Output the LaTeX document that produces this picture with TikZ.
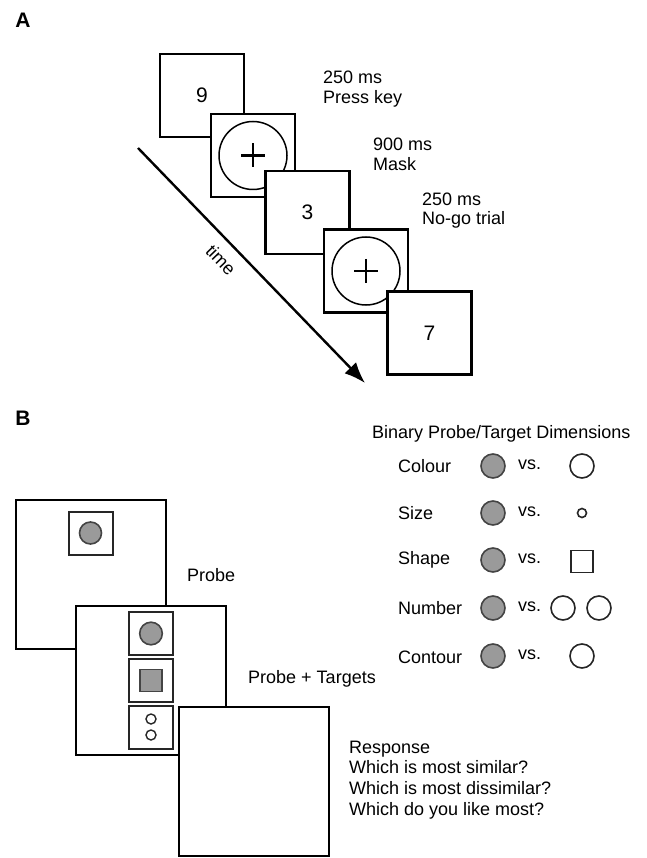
\documentclass[tikz,border=0pt]{standalone}
\usepackage{fontspec}
\setmainfont{Liberation Sans}
\usetikzlibrary{arrows.meta,calc}
\definecolor{fillgray}{HTML}{9A9A9A}
\definecolor{edgegray}{HTML}{444444}
\tikzset{
  screen/.style={draw=black, fill=white, line width=2.5pt, inner sep=0pt, font=\fontsize{21}{23}\selectfont},
  bigscreen/.style={screen, minimum width=150pt, minimum height=149pt},
  smallscreen/.style={screen, minimum width=84pt, minimum height=83pt},
  innerbox/.style={draw=black!85, fill=white, line width=2pt, inner sep=0pt, minimum width=44pt, minimum height=43pt},
  maskcircle/.style={draw=black, line width=1.5pt},
  plusline/.style={draw=black, line width=2.1pt},
  lbl/.style={inner sep=0pt, anchor=west, align=left, font=\fontsize{18}{19.8}\selectfont},
  rlbl/.style={inner sep=0pt, anchor=west, align=left, font=\fontsize{18}{20.7}\selectfont},
  panel/.style={inner sep=0pt, font=\fontsize{21}{23}\selectfont\bfseries},
  graydot/.style={draw=edgegray, fill=fillgray, line width=1.6pt},
  opendot/.style={draw=black!85, fill=white, line width=1.6pt},
}
\begin{document}
\begin{tikzpicture}[x=1pt,y=-1pt]
\useasboundingbox (0,0) rectangle (646,858);
\fill[white] (0,0) rectangle (646,858);

% ---------- Panel A ----------
\node[panel] (la) at (23,20.5) {A};

\coordinate (t0) at (138,148);
\coordinate (t1) at (365,383);
\draw[line width=2.4pt, -{Latex[length=21pt,width=16pt]}] (t0) -- (t1);
\node[inner sep=0pt, rotate=-46, font=\fontsize{18}{20}\selectfont] (time) at (221,260) {time};

\node[smallscreen] (s1) at (202,95.5) {9};
\node[smallscreen] (s2) at (253,155.5) {};
\draw[maskcircle] (s2.center) circle (34);
\draw[plusline] ($(s2.center)+(-12,0)$) -- ($(s2.center)+(12,0)$);
\draw[plusline] ($(s2.center)+(0,-12)$) -- ($(s2.center)+(0,12)$);
\node[smallscreen] (s3) at (307.5,212.5) {3};
\node[smallscreen] (s4) at (366,271) {};
\draw[maskcircle] (s4.center) circle (34);
\draw[plusline] ($(s4.center)+(-12,0)$) -- ($(s4.center)+(12,0)$);
\draw[plusline] ($(s4.center)+(0,-12)$) -- ($(s4.center)+(0,12)$);
\node[smallscreen] (s5) at (429.5,333) {7};

\node[lbl] (a1) at (323,89) {250 ms\\Press key};
\node[lbl] (a2) at (373,154) {900 ms\\Mask};
\node[lbl] (a3) at (422,210.5) {250 ms\\No-go trial};

% ---------- Panel B ----------
\node[panel] (lb) at (23,418.5) {B};

\node[bigscreen] (p1) at (91,574.5) {};
\node[innerbox] (pb) at (90.5,533) {};
\draw[graydot] (pb.center) circle (11);

\node[bigscreen] (p2) at (151,680.5) {};
\node[innerbox] (tb1) at (151,633.5) {};
\node[innerbox] (tb2) at (151,680.5) {};
\node[innerbox] (tb3) at (151,727) {};
\draw[graydot] (tb1.center) circle (11.3);
\draw[graydot] ($(tb2.center)+(-11,-11)$) rectangle ($(tb2.center)+(11,11)$);
\draw[opendot, line width=1.4pt] ($(tb3.center)+(0,-8)$) circle (5);
\draw[opendot, line width=1.4pt] ($(tb3.center)+(0,8)$) circle (5);

\node[bigscreen] (p3) at (254,781.5) {};

\node[lbl] (bp) at (187,575) {Probe};
\node[lbl] (bpt) at (248,679) {Probe + Targets};
\node[rlbl] (br) at (349,780) {Response\\Which is most similar?\\Which is most dissimilar?\\Which do you like most?};

% legend
\node[lbl] (lt) at (372,434) {Binary Probe/Target Dimensions};
\node[lbl] (r1) at (398,466) {Colour};
\node[lbl] (r2) at (398,513) {Size};
\node[lbl] (r3) at (398,560) {Shape};
\node[lbl] (r4) at (398,608) {Number};
\node[lbl] (r5) at (398,657) {Contour};
\foreach \yy in {466,513,560,608,656}{
  \draw[graydot] (493,\yy) circle (12);
  \node[lbl] at (518,\yy-1) {vs.};
}
\draw[opendot] (582,466) circle (12);
\draw[opendot] (582,513) circle (4.5);
\draw[opendot] (571,550.5) rectangle (593,572.5);
\draw[opendot] (563,608) circle (12);
\draw[opendot] (599,608) circle (12);
\draw[opendot] (582,656) circle (12);
\end{tikzpicture}
\end{document}
